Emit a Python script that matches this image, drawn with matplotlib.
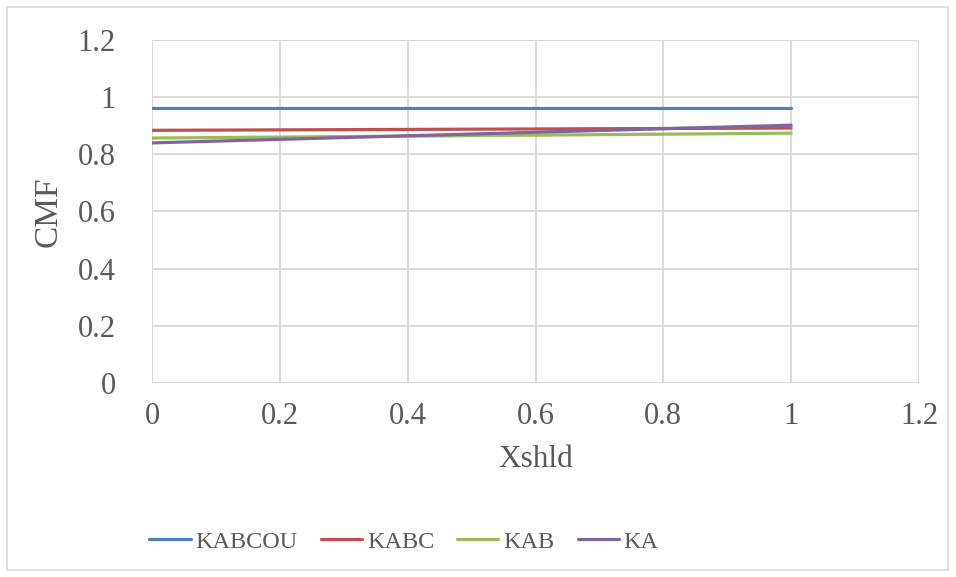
import matplotlib
matplotlib.use('Agg')
import matplotlib.pyplot as plt
from matplotlib.patches import Rectangle

# data
xshld = [0, 1]
series_names = ['KABCOU', 'KABC', 'KAB', 'KA']
kabcou = [0.962, 0.962]
kabc = [0.884, 0.892]
kab = [0.857, 0.874]
ka = [0.840, 0.902]
colors = ['#4F81BD', '#C0504D', '#9BBB59', '#8064A2']

xticks = [0, 0.2, 0.4, 0.6, 0.8, 1, 1.2]
yticks = [0, 0.2, 0.4, 0.6, 0.8, 1, 1.2]

plt.rcParams['font.family'] = ['Liberation Serif', 'DejaVu Serif']
txt = '#595959'
grid = '#D9D9D9'

fig = plt.figure(figsize=(9.56, 5.77), dpi=100)
ax = fig.add_axes([152 / 956, 1 - 383 / 577, (919 - 152) / 956, (383 - 40) / 577])

# chart border
fig.patches.append(Rectangle((7 / 956, 7 / 577), 941 / 956, 563 / 577,
                             transform=fig.transFigure, fill=False,
                             edgecolor=grid, linewidth=1.2))

for vals, name, c in zip([kabcou, kabc, kab, ka], series_names, colors):
    ax.plot(xshld, vals, color=c, linewidth=2.3, label=name,
            solid_capstyle='round')

ax.set_xlim(0, 1.2)
ax.set_ylim(0, 1.2)
ax.set_xticks(xticks)
ax.set_yticks(yticks)
ax.set_xticklabels(['%g' % v for v in xticks])
ax.set_yticklabels(['%g' % v for v in yticks])
ax.grid(True, color=grid, linewidth=1.3)
ax.set_axisbelow(True)
for s in ax.spines.values():
    s.set_visible(False)
ax.tick_params(length=0, labelsize=22, colors=txt, pad=0)
ax.tick_params(axis='y', pad=26)
ax.tick_params(axis='x', pad=14)

ax.set_xlabel('Xshld', fontsize=22.5, color=txt, labelpad=10)
ax.set_ylabel('CMF', fontsize=24, color=txt, labelpad=10)

fig.legend(loc='center', bbox_to_anchor=(404 / 956, 0.061), ncol=4,
           frameon=False, fontsize=17.5, handlelength=1.7, handletextpad=0.2,
           columnspacing=0.95, labelcolor=txt)

fig.savefig('out.png', dpi=100)
